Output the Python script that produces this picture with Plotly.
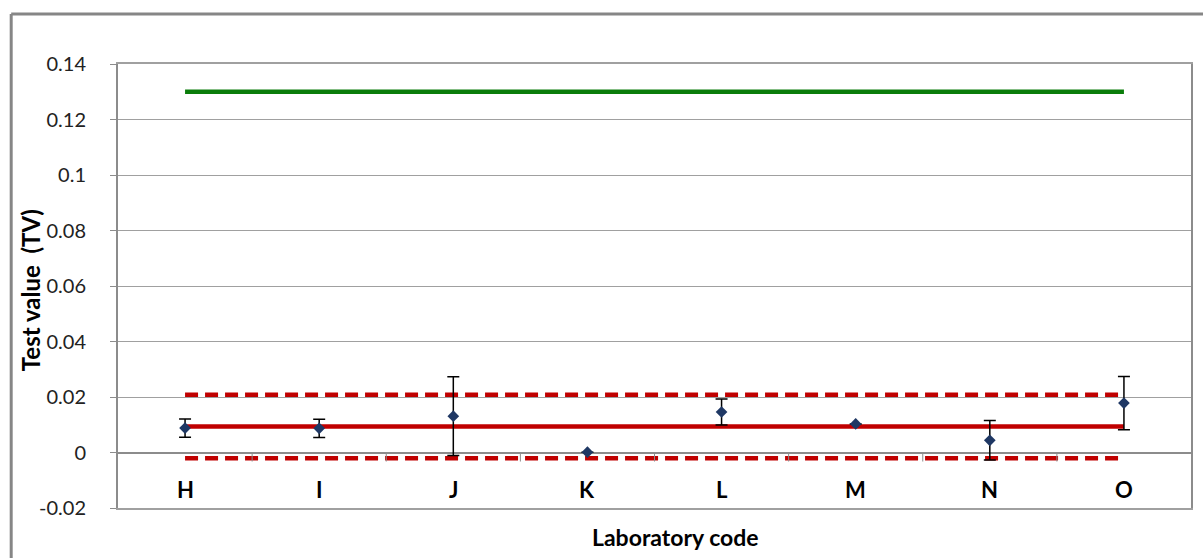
import plotly.graph_objects as go

labs = ["H", "I", "J", "K", "L", "M", "N", "O"]
test_values = [0.0088, 0.0087, 0.0131, 0.0001, 0.0146, 0.0103, 0.0044, 0.0178]
err_values = [0.0033, 0.0033, 0.0142, 0.0, 0.0047, 0.0, 0.0071, 0.0096]
assigned_value = 0.0094
upper_limit = 0.0208
lower_limit = -0.0021
green_limit = 0.13
y_ticks = [-0.02, 0, 0.02, 0.04, 0.06, 0.08, 0.1, 0.12, 0.14]
y_tick_text = ["-0.02", "0", "0.02", "0.04", "0.06", "0.08", "0.1", "0.12", "0.14"]

FONT = "Lato"
ends = [labs[0], labs[-1]]

fig = go.Figure()
fig.add_trace(go.Scatter(x=ends, y=[green_limit] * 2, mode="lines",
                         line=dict(color="#0A7D0A", width=4.5), showlegend=False))
fig.add_trace(go.Scatter(x=ends, y=[upper_limit] * 2, mode="lines",
                         line=dict(color="#C00000", width=4.5, dash="13px,7px"), showlegend=False))
fig.add_trace(go.Scatter(x=ends, y=[lower_limit] * 2, mode="lines",
                         line=dict(color="#C00000", width=4.5, dash="13px,7px"), showlegend=False))
fig.add_trace(go.Scatter(x=ends, y=[assigned_value] * 2, mode="lines",
                         line=dict(color="#C00000", width=4.5), showlegend=False))
fig.add_trace(go.Scatter(x=labs, y=test_values, mode="markers",
                         marker=dict(symbol="diamond", size=9, color="#1F3864"),
                         error_y=dict(type="data", array=err_values, visible=True,
                                      color="black", thickness=1.5, width=6),
                         showlegend=False))

shapes = []
for i in range(1, len(labs)):
    shapes.append(dict(type="line", xref="x", yref="y", ysizemode="pixel", yanchor=0,
                       x0=i - 0.5, x1=i - 0.5, y0=0, y1=-9,
                       line=dict(color="#8C8C8C", width=1)))
# outer chart border (left and top)
shapes.append(dict(type="line", xref="paper", yref="paper",
                   x0=(11 - 118) / 1075, x1=(11 - 118) / 1075, y0=-0.3, y1=1 + (64 - 14) / 444,
                   line=dict(color="#868686", width=3)))
shapes.append(dict(type="line", xref="paper", yref="paper",
                   x0=(11 - 118) / 1075, x1=1.05, y0=1 + (64 - 14) / 444, y1=1 + (64 - 14) / 444,
                   line=dict(color="#868686", width=3)))

annotations = []
for lab in labs:
    annotations.append(dict(x=lab, y=0, xref="x", yref="y", text=lab, showarrow=False,
                            yanchor="top", yshift=-21,
                            font=dict(family=FONT, size=22, color="black", weight="bold")))
annotations.append(dict(x=(677 - 118) / 1075, y=(508 - 537) / 444, xref="paper", yref="paper",
                        text="Laboratory code", showarrow=False, xanchor="center", yanchor="middle",
                        font=dict(family=FONT, size=23, color="black", weight="bold")))
annotations.append(dict(x=(30 - 118) / 1075, y=(508 - 290) / 444, xref="paper", yref="paper",
                        text="Test value  (TV)", showarrow=False, textangle=-90,
                        xanchor="center", yanchor="middle",
                        font=dict(family=FONT, size=24, color="black", weight="bold")))

fig.update_layout(
    width=1203, height=558,
    margin=dict(l=118, r=10, t=64, b=50),
    paper_bgcolor="white", plot_bgcolor="white",
    font=dict(family=FONT, size=18, color="#222"),
    shapes=shapes, annotations=annotations,
    xaxis=dict(type="category", categoryorder="array", categoryarray=labs,
               range=[-0.5, 7.5], showticklabels=False, ticks="",
               showgrid=False, zeroline=False, showline=True, mirror=True,
               linecolor="#A0A0A0", linewidth=2),
    yaxis=dict(range=[-0.02, 0.14], tickvals=y_ticks, ticktext=y_tick_text,
               showgrid=True, gridcolor="#A0A0A0", gridwidth=1,
               zeroline=True, zerolinecolor="#8C8C8C", zerolinewidth=2,
               showline=True, mirror=True, linecolor="#8C8C8C", linewidth=2,
               ticks="outside", ticklen=6, tickcolor="#8C8C8C",
               ticklabelstandoff=20,
               tickfont=dict(family=FONT, size=20, color="#222")),
)

fig.write_html("out.html")
